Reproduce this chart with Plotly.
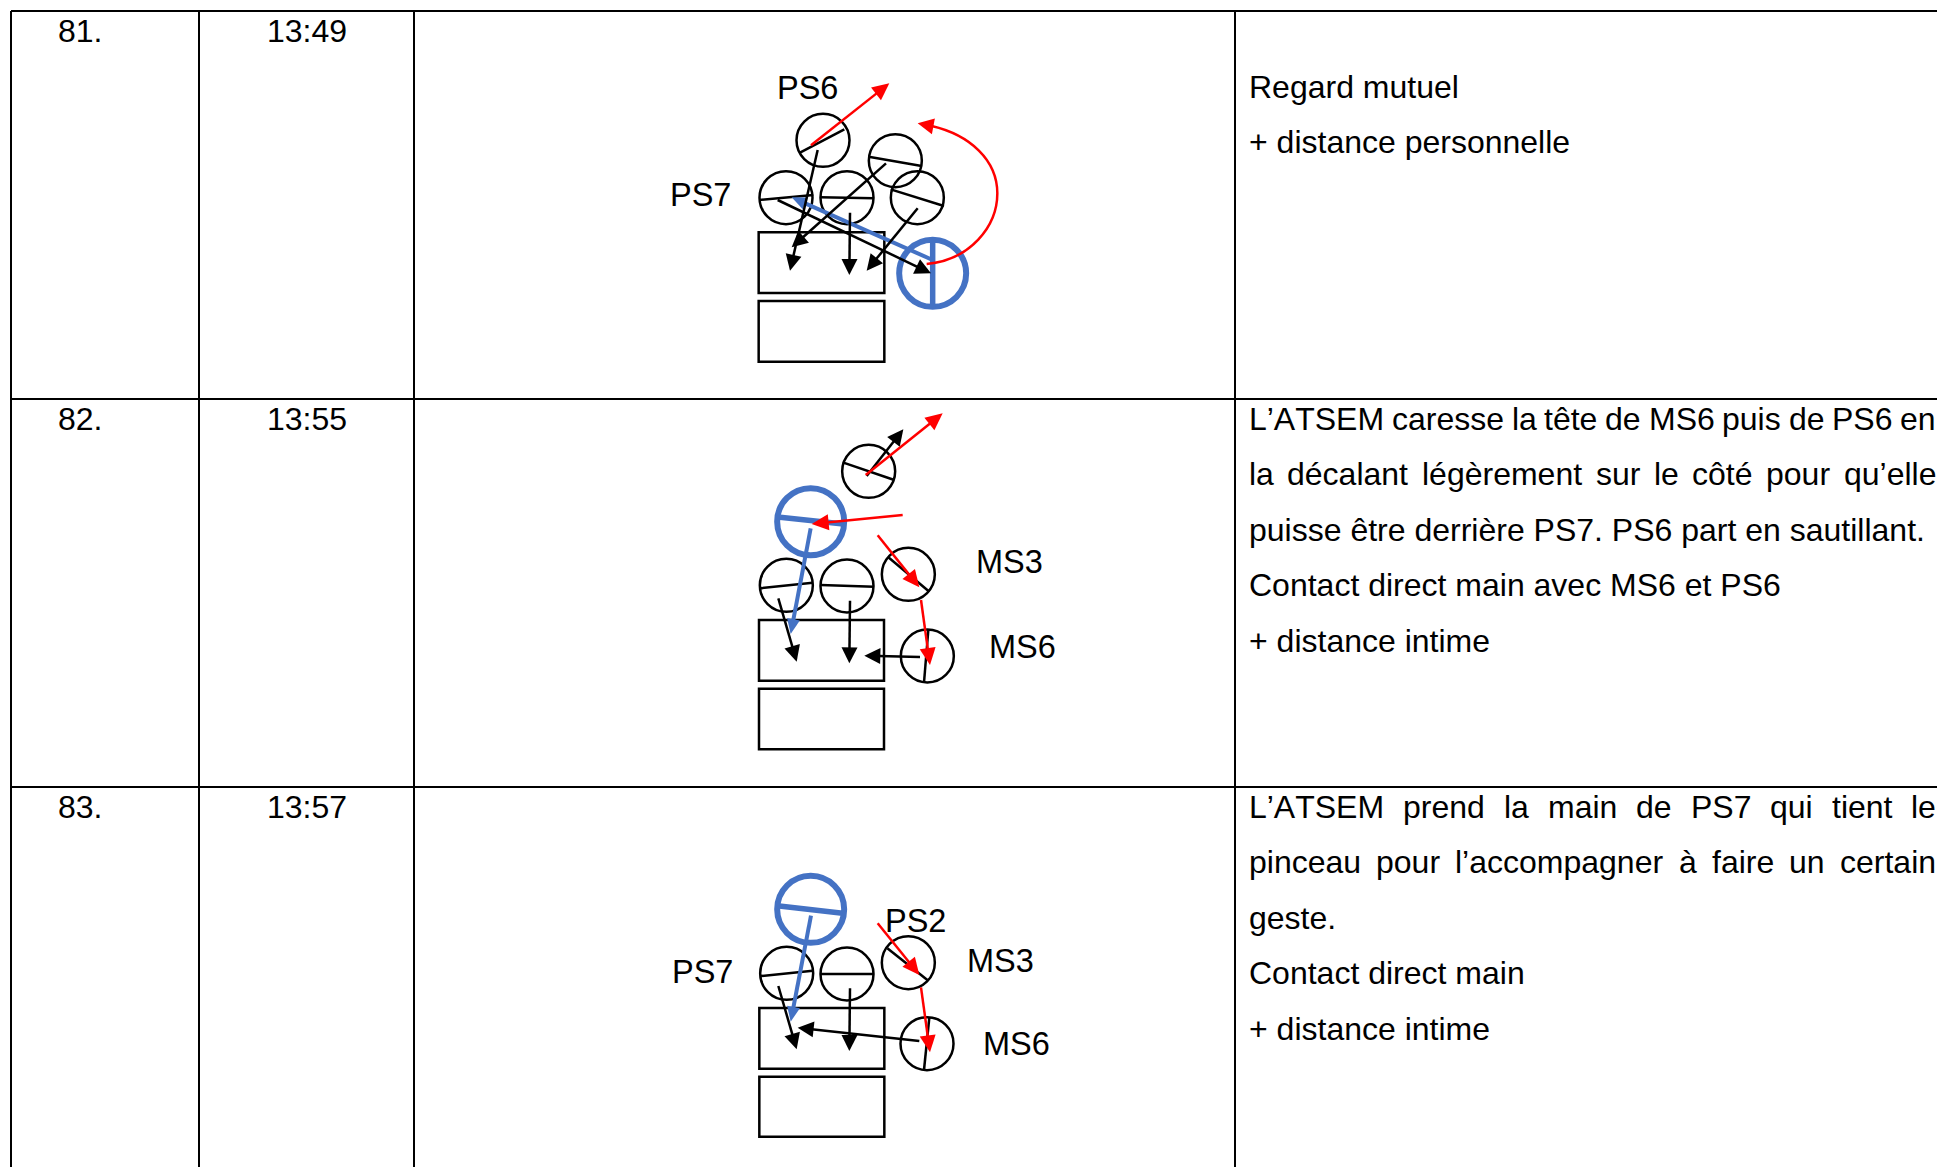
import plotly.graph_objects as go

# ---- table text ----
ROW_NUMBERS = ["81.", "82.", "83."]
ROW_TIMES = ["13:49", "13:55", "13:57"]
ROW_TEXT_Y = [31, 419, 807]
NOTES_81 = ["Regard mutuel", "+ distance personnelle"]
NOTES_82 = ["L’ATSEM caresse la tête de MS6 puis de PS6 en",
            "la décalant légèrement sur le côté pour qu’elle",
            "puisse être derrière PS7. PS6 part en sautillant.",
            "Contact direct main avec MS6 et PS6",
            "+ distance intime"]
NOTES_83 = ["L’ATSEM prend la main de PS7 qui tient le",
            "pinceau pour l’accompagner à faire un certain",
            "geste.",
            "Contact direct main",
            "+ distance intime"]
JUSTIFIED_82 = [0, 1]
JUSTIFIED_83 = [0, 1]
NOTES_Y = [87, 419, 807]

GRID_X = [11, 199, 414, 1235]
GRID_Y = [11, 399, 787]

# ---- diagram contents, in each diagram's own 3x coordinates ----
ORIGIN_1 = (650, 60)
ORIGIN_2 = (720, 400)
ORIGIN_3 = (650, 850)

RECTS_1 = [(326, 517, 703, 699), (326, 723, 703, 905)]
CIRCLES_1 = [(519, 241), (736, 302), (408, 413), (591, 413), (802, 413)]
BLUE_CIRCLE_1 = (848, 640)
HEADS_1 = [(450, 278, 583, 208), (656, 290, 815, 318), (328, 420, 490, 405),
           (510, 412, 672, 415), (722, 388, 882, 438)]
BLUE_HEAD_1 = (848, 535, 848, 745)
BLACK_1 = [(503, 270, 420, 632), (708, 310, 425, 562), (383, 420, 843, 640),
           (600, 458, 598, 645), (803, 445, 650, 632)]
BLUE_1 = [(848, 600, 425, 412)]
RED_1 = [(483, 256, 718, 70)]
ARC_1 = [(830, 612), (960, 600), (1042, 500), (1042, 400), (1042, 300), (960, 225), (845, 198)]
ARC_TIP_1 = (803, 190)
LABELS_1 = [("PS6", 473, 85), ("PS7", 152, 405)]

RECTS_2 = [(117, 660, 492, 842), (117, 866, 492, 1048)]
CIRCLES_2 = [(446, 214), (199, 556), (381, 558), (565, 523), (622, 768)]
BLUE_CIRCLE_2 = (272, 365)
HEADS_2 = [(368, 187, 523, 240), (120, 565, 278, 548), (302, 555, 462, 560),
           (505, 472, 628, 575), (625, 690, 612, 848)]
BLUE_HEAD_2 = (180, 352, 370, 372)
BLACK_2 = [(440, 228, 550, 88), (175, 595, 230, 785), (390, 602, 388, 790), (600, 771, 433, 767)]
BLUE_2 = [(272, 385, 212, 702)]
RED_2 = [(437, 225, 668, 40), (548, 345, 275, 372), (473, 406, 598, 562), (603, 600, 630, 795)]
LABELS_2 = [("MS3", 868, 485), ("MS6", 906, 740)]

RECTS_3 = [(328, 474, 703, 656), (328, 680, 703, 860)]
CIRCLES_3 = [(410, 370), (591, 372), (775, 338), (831, 581)]
BLUE_CIRCLE_3 = (482, 178)
HEADS_3 = [(333, 378, 488, 362), (512, 372, 670, 372), (712, 295, 835, 392), (838, 503, 822, 660)]
BLUE_HEAD_3 = (388, 168, 578, 190)
BLACK_3 = [(385, 408, 440, 598), (600, 415, 598, 603), (808, 573, 443, 533)]
BLUE_3 = [(483, 197, 422, 515)]
RED_3 = [(683, 220, 808, 375), (813, 412, 840, 607)]
LABELS_3 = [("PS2", 795, 212), ("PS7", 157, 367), ("MS3", 1050, 333), ("MS6", 1100, 582)]

BLACK = "#000000"
BLUE = "#4472C4"
RED = "#FF0000"
FONT = "Liberation Sans, Arial, sans-serif"
TEXT_SIZE = 32
LABEL_SIZE = 32.5
TEXT_LEFT = 1249
TEXT_RIGHT = 1936
LINE_STEP = 55.4
UNKERNED_SHIFT = 2  # text that widens once kerning is off grows around its centre

# Arial advance widths (per em) for word layout in justified lines
W = {"’": .222, "A": .667, "T": .611, "S": .667, "E": .667, "M": .833, "L": .556, "P": .667, "a": .556,
     "b": .556, "c": .5, "d": .556, "e": .556, "é": .556, "è": .556, "ê": .556, "ô": .556, "à": .556,
     "f": .278, "g": .556, "h": .556, "i": .222, "j": .222, "k": .5, "l": .222, "m": .833, "n": .556,
     "o": .556, "p": .556, "q": .556, "r": .333, "s": .5, "t": .278, "u": .556, "v": .5, "6": .556, "7": .556,
     ".": .278}


def word_width(word):
    return sum(W[c] for c in word) * TEXT_SIZE


shapes = []
annotations = []


def line(x0, y0, x1, y1, color=BLACK, width=2.5):
    shapes.append(dict(type="line", xref="x", yref="y", x0=x0, y0=y0, x1=x1, y1=y1,
                       line=dict(color=color, width=width)))


def text(s, x, y, size=TEXT_SIZE, anchor="left"):
    annotations.append(dict(text=s, x=x, y=y, xref="x", yref="y", showarrow=False, xanchor=anchor,
                            yanchor="middle", borderpad=0, borderwidth=0,
                            font=dict(family=FONT, size=size, color=BLACK)))


def arrow(seg, origin, color=BLACK, width=2.5, length=16, half=8):
    ox, oy = origin
    x0, y0 = ox + seg[0] / 3, oy + seg[1] / 3
    x1, y1 = ox + seg[2] / 3, oy + seg[3] / 3
    d = ((x1 - x0) ** 2 + (y1 - y0) ** 2) ** .5
    ux, uy = (x1 - x0) / d, (y1 - y0) / d
    bx, by = x1 - ux * length, y1 - uy * length
    line(x0, y0, bx + ux * 2, by + uy * 2, color, width)
    head(x1, y1, ux, uy, color, length, half)


def head(x1, y1, ux, uy, color, length, half):
    bx, by = x1 - ux * length, y1 - uy * length
    path = (f"M {x1:.2f} {y1:.2f} L {bx - uy * half:.2f} {by + ux * half:.2f} "
            f"L {bx + uy * half:.2f} {by - ux * half:.2f} Z")
    shapes.append(dict(type="path", xref="x", yref="y", path=path, fillcolor=color,
                       line=dict(color=color, width=0)))


def diagram(origin, rects, circles, heads, blue_circle, blue_head, black, blue, red, labels):
    ox, oy = origin
    for r in rects:
        shapes.append(dict(type="rect", xref="x", yref="y", x0=ox + r[0] / 3, y0=oy + r[1] / 3,
                           x1=ox + r[2] / 3, y1=oy + r[3] / 3, line=dict(color=BLACK, width=2.5)))
    for cx, cy in circles:
        px, py = ox + cx / 3, oy + cy / 3
        shapes.append(dict(type="circle", xref="x", yref="y", x0=px - 26.5, y0=py - 26.5,
                           x1=px + 26.5, y1=py + 26.5, line=dict(color=BLACK, width=2.5)))
    bx, by = ox + blue_circle[0] / 3, oy + blue_circle[1] / 3
    shapes.append(dict(type="circle", xref="x", yref="y", x0=bx - 33.5, y0=by - 33.5,
                       x1=bx + 33.5, y1=by + 33.5, line=dict(color=BLUE, width=6)))
    for h in heads:
        line(ox + h[0] / 3, oy + h[1] / 3, ox + h[2] / 3, oy + h[3] / 3)
    line(ox + blue_head[0] / 3, oy + blue_head[1] / 3, ox + blue_head[2] / 3, oy + blue_head[3] / 3, BLUE, 5.5)
    for s in blue:
        arrow(s, origin, BLUE, 4, 15, 6.5)
    for s in black:
        arrow(s, origin)
    for s in red:
        arrow(s, origin, RED, 2.5, 17, 8)
    for s, x, y in labels:
        text(s, ox + x / 3, oy + y / 3, LABEL_SIZE, "center")


# table grid
for x in GRID_X:
    line(x, GRID_Y[0], x, 1167, width=2)
for y in GRID_Y:
    line(GRID_X[0], y, 1937, y, width=2)

diagram(ORIGIN_1, RECTS_1, CIRCLES_1, HEADS_1, BLUE_CIRCLE_1, BLUE_HEAD_1, BLACK_1, BLUE_1, RED_1, LABELS_1)
diagram(ORIGIN_2, RECTS_2, CIRCLES_2, HEADS_2, BLUE_CIRCLE_2, BLUE_HEAD_2, BLACK_2, BLUE_2, RED_2, LABELS_2)
diagram(ORIGIN_3, RECTS_3, CIRCLES_3, HEADS_3, BLUE_CIRCLE_3, BLUE_HEAD_3, BLACK_3, BLUE_3, RED_3, LABELS_3)

# red curved arrow of the first diagram
ox, oy = ORIGIN_1
P = [(ox + a / 3, oy + b / 3) for a, b in ARC_1]
shapes.append(dict(type="path", xref="x", yref="y", line=dict(color=RED, width=2.5),
                   path=(f"M {P[0][0]:.2f} {P[0][1]:.2f} C {P[1][0]:.2f} {P[1][1]:.2f} {P[2][0]:.2f} {P[2][1]:.2f} "
                         f"{P[3][0]:.2f} {P[3][1]:.2f} C {P[4][0]:.2f} {P[4][1]:.2f} {P[5][0]:.2f} {P[5][1]:.2f} "
                         f"{P[6][0]:.2f} {P[6][1]:.2f}")))
tipx, tipy = ox + ARC_TIP_1[0] / 3, oy + ARC_TIP_1[1] / 3
dx, dy = tipx - P[6][0], tipy - P[6][1]
d = (dx * dx + dy * dy) ** .5
head(tipx, tipy, dx / d, dy / d, RED, 16, 8)

# row numbers and times
for num, tm, y in zip(ROW_NUMBERS, ROW_TIMES, ROW_TEXT_Y):
    text(num, 58, y)
    text(tm, 267, y)


def notes(lines, justified, y0):
    for i, s in enumerate(lines):
        y = y0 + i * LINE_STEP
        if i in justified:
            words = s.split(" ")
            total = sum(word_width(w) for w in words)
            gap = (TEXT_RIGHT - TEXT_LEFT - total) / (len(words) - 1)
            x = TEXT_LEFT
            for w in words:
                text(w, x + (UNKERNED_SHIFT if w.startswith("L’") else 0), y)
                x += word_width(w) + gap
        else:
            text(s, TEXT_LEFT, y)


notes(NOTES_81, [], NOTES_Y[0])
notes(NOTES_82, JUSTIFIED_82, NOTES_Y[1])
notes(NOTES_83, JUSTIFIED_83, NOTES_Y[2])

fig = go.Figure()
fig.update_layout(
    width=1937, height=1167, autosize=False,
    margin=dict(l=0, r=0, t=0, b=0, pad=0),
    paper_bgcolor="white", plot_bgcolor="white", showlegend=False,
    xaxis=dict(range=[0, 1937], visible=False, fixedrange=True),
    yaxis=dict(range=[1167, 0], visible=False, fixedrange=True),
    shapes=shapes, annotations=annotations,
)
fig.write_html("out.html", config=dict(displayModeBar=False),
               post_script=("document.body.style.margin='0';document.body.style.overflow='hidden';"
                            "var st=document.createElement('style');st.textContent='text{font-kerning:none}';"
                            "document.head.appendChild(st);"))
